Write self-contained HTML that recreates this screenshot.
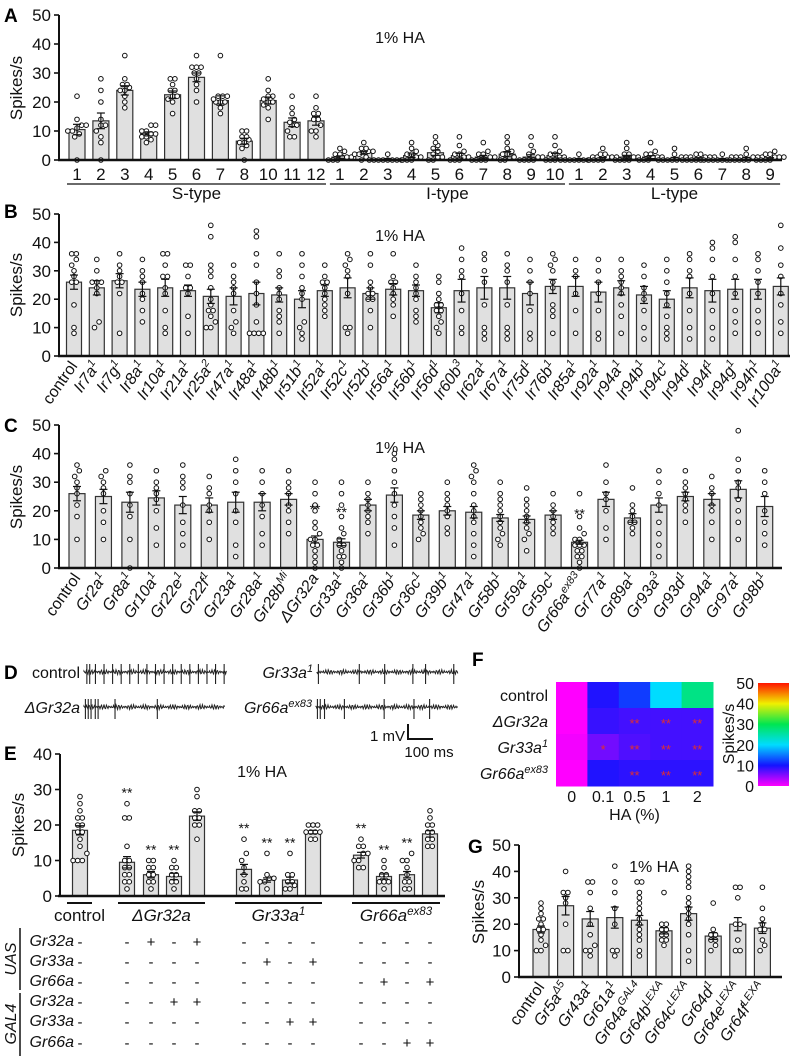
<!DOCTYPE html>
<html><head><meta charset="utf-8"><style>
body{margin:0;background:#fff}
svg{display:block;font-family:"Liberation Sans",Arial,sans-serif}
</style></head><body>
<svg id="fig" width="794" height="1058" viewBox="0 0 794 1058" xmlns="http://www.w3.org/2000/svg">
<g font-weight="bold" font-size="19">
<text x="4" y="22">A</text><text x="4" y="218">B</text><text x="4" y="432">C</text>
<text x="4" y="679">D</text><text x="4" y="760">E</text><text x="472" y="666">F</text><text x="468" y="853">G</text>
</g>
</svg>
<script>
// ---------- Data ----------
const aValues=[10.5,13.5,24,9,22.5,28.5,20.5,6.5,20.5,13,13.5, 1,2.5,0.3,1.5,2.5,1.5,1,2,1,1.5, 0.3,0.5,1,1,0.5,0.5,0.3,0.5,0.5];
const aSem=[1.8,2.7,1.6,0.7,1.3,1.5,1.6,1,1.2,1.5,1.5, .4,.5,.2,.6,.9,.8,.6,.9,.8,.8, .2,.4,.6,.5,.4,.3,.2,.4,.3];
const aLabels=["1","2","3","4","5","6","7","8","10","11","12","1","2","3","4","5","6","7","8","9","10","1","2","3","4","5","6","7","8","9"];
const aDots=[[0,8,9,10,10,11,12,12,14,22],[0,6,8,10,12,12,14,20,24,28],[18,20,22,24,24,25,26,26,28,36],[6,7,8,8,9,9,10,10,12,12],[16,20,21,22,22,24,24,26,28,28],[20,24,26,28,30,30,32,32,32,36],[16,18,20,20,20,21,22,22,22,36],[0,4,5,6,6,7,8,8,10,10],[14,18,19,20,20,21,22,22,24,28],[8,8,10,12,12,13,14,16,18,22],[8,10,10,12,14,14,16,16,18,22],
[0,0,0,1,1,1,2,2,3,4],[0,1,2,2,3,3,3,4,4,6],[0,0,0,0,0,0,0,0,1,2],[0,0,0,1,1,2,2,3,4,6],[0,0,1,1,2,3,4,5,6,8],[0,0,0,1,1,2,2,3,5,8],[0,0,0,0,1,1,2,2,3,6],[0,0,1,1,2,2,3,4,6,8],[0,0,0,0,1,1,2,3,5,8],[0,0,0,1,1,2,2,3,5,8],
[0,0,0,0,0,0,0,1,1,2],[0,0,0,0,1,1,1,2,2,4],[0,0,0,0,1,1,2,2,4,6],[0,0,0,1,1,1,2,2,3,6],[0,0,0,0,0,1,1,1,2,4],[0,0,0,0,0,1,1,1,2,2],[0,0,0,0,0,0,1,1,1,2],[0,0,0,0,0,1,1,1,2,4],[0,0,0,0,1,1,1,2,2,3]];
const aGroups=[["S-type",0,10],["I-type",11,20],["L-type",21,29]];

const bLabels=[["control",""],["Ir7a","1"],["Ir7g","1"],["Ir8a","1"],["Ir10a","1"],["Ir21a","1"],["Ir25a","2"],["Ir47a","1"],["Ir48a","1"],["Ir48b","1"],["Ir51b","1"],["Ir52a","1"],["Ir52c","1"],["Ir52b","1"],["Ir56a","1"],["Ir56b","1"],["Ir56d","1"],["Ir60b","3"],["Ir62a","1"],["Ir67a","1"],["Ir75d","1"],["Ir76b","1"],["Ir85a","1"],["Ir92a","1"],["Ir94a","1"],["Ir94b","1"],["Ir94c","1"],["Ir94d","1"],["Ir94f","1"],["Ir94g","1"],["Ir94h","1"],["Ir100a","1"]];
const bValues=[26,24,26.5,23.5,24,23,21,21,22,21.5,20,23,24,22,23.5,23,17,23,24,24,22,24.5,24.5,22.5,24,21.5,20,24,23,23.5,23.5,24.5];
const bSem=[2.5,2.5,2.5,2.5,3,2,2.5,3,4,2.5,3,2,3.5,2,2,2,1.8,4,4,4,4,2.5,3.5,3.5,2.5,3,3,3.5,4,3.5,3.5,3];
const bDots=[[8,10,18,26,26,28,30,32,34,36,36],[10,12,22,24,26,26,26,30,34],[8,22,26,26,28,30,32,36],[12,16,20,22,26,28,30,34],[8,10,16,22,24,28,28,32,36,36],[8,14,22,24,24,28,32,32],[10,10,12,14,16,16,18,20,24,28,30,32,42,46],[8,10,12,16,22,24,26,28,32],[8,8,8,8,12,18,22,26,32,36,42,44],[8,12,14,16,20,22,24,28,30,36],[6,8,10,12,20,22,24,28,32,36],[14,16,18,20,22,24,26,26,28,32],[8,10,10,22,28,30,32,34,36],[10,16,20,20,22,22,24,26,32,36],[14,18,20,22,24,26,26,28,36],[12,14,16,20,22,24,26,28,32],[8,10,12,14,16,16,18,18,20,22,26,28],[8,10,16,22,28,30,34,38],[6,8,10,18,26,30,34,36],[6,8,10,18,26,30,32,36],[6,8,16,22,26,30,34],[8,14,16,18,24,26,30,32,34,36],[8,16,22,28,30,34],[6,8,16,22,26,30,34],[8,14,18,22,24,26,28,30,34],[6,10,16,20,22,24,28,32],[6,8,10,14,18,22,26,30,34],[6,10,16,22,28,30,34,36],[6,10,16,22,28,34,38,40],[8,12,16,22,28,34,40,42],[8,12,16,22,26,30,34,36],[8,12,18,22,28,32,38,46]];

const cLabels=[["control",""],["Gr2a","1"],["Gr8a","1"],["Gr10a","1"],["Gr22e","1"],["Gr22f","1"],["Gr23a","1"],["Gr28a","1"],["Gr28b","Mi"],["\u0394Gr32a",""],["Gr33a","1"],["Gr36a","1"],["Gr36b","1"],["Gr36c","1"],["Gr39b","1"],["Gr47a","1"],["Gr58b","1"],["Gr59a","1"],["Gr59c","1"],["Gr66a","ex83"],["Gr77a","1"],["Gr89a","1"],["Gr93a","3"],["Gr93d","1"],["Gr94a","1"],["Gr97a","1"],["Gr98b","1"]];
const cValues=[26,25,23,24.5,22,22,23,23,24,10,9,22,25.5,18.5,20,19.5,17.5,17,18.5,9,24,17.5,22,25,24,27.5,21.5];
const cSem=[2.5,2.5,3.5,2.5,3,2.5,3.5,3,2,1.2,1.2,2,2.5,1.5,1.5,2,1.2,1.2,1.5,0.7,2.5,1.5,2.5,1.5,2,3,3.5];
const cStars=[9,10,19];
const cDots=[[10,18,22,26,28,30,32,34,36],[10,16,20,26,28,30,32,34],[0,10,18,22,26,30,32,36],[8,14,20,24,26,28,30,34],[8,12,16,22,28,30,32,36],[10,16,20,22,26,28,32],[4,8,16,20,26,30,34,38],[8,12,18,22,26,30,34],[12,16,20,22,26,28,30,34],[0,2,4,6,8,8,10,10,12,14,16,20,22,26,30],[0,2,4,4,6,8,8,10,12,14,18,22,26,30],[12,16,18,20,22,24,26,30],[8,14,18,22,26,30,34,38,40],[10,12,14,16,18,20,22,24,26],[12,14,18,20,22,24,26,30],[4,8,12,16,18,20,22,26,30,32,34,36],[8,10,12,14,16,18,20,22,24,26,30],[6,10,12,14,16,18,20,22,24,28],[12,14,16,18,20,22,26],[0,2,4,4,6,6,8,8,8,10,10,12,14,18,26],[10,14,20,24,26,30,36],[12,14,16,16,18,20,22,28],[4,8,12,16,22,26,30,34],[16,20,22,24,26,28,30,34],[10,16,20,22,26,28,32],[10,16,20,24,28,30,34,38,48],[8,12,16,20,26,30,34]];

const eValues=[18.5,9.5,6,5.5,22.5,7.5,4.5,4.5,18,11.5,5.5,6,17.5];
const eSem=[1.3,1.6,0.9,0.9,1.2,1.4,0.6,0.8,0.5,0.8,0.7,0.9,0.9];
const eDots=[[10,10,10,12,14,16,18,18,20,20,22,22,24,26,28],[2,4,4,6,6,8,8,10,10,14,22,22,26],[2,4,4,6,6,8,8,10,10],[2,4,4,6,6,8,8,10],[16,20,20,22,22,24,24,28,30],[2,2,4,6,8,10,12,16],[2,4,4,5,5,6,12],[2,2,3,4,4,6,6,12],[16,16,18,18,18,18,20,20,20],[8,8,10,10,12,12,14,14,16],[2,4,4,4,6,6,8,10],[2,2,4,4,6,8,10,10,12],[14,14,16,16,18,18,20,20,22,24]];
const eStars=[1,2,3,5,6,7,9,10,11];
const eTable=[["-","-","+","-","+","-","-","-","-","-","-","-","-"],["-","-","-","-","-","-","+","-","+","-","-","-","-"],["-","-","-","-","-","-","-","-","-","-","+","-","+"],["-","-","-","+","+","-","-","-","-","-","-","-","-"],["-","-","-","-","-","-","-","+","+","-","-","-","-"],["-","-","-","-","-","-","-","-","-","-","-","+","+"]];
const eRowLabels=["Gr32a","Gr33a","Gr66a","Gr32a","Gr33a","Gr66a"];

const fRows=[["control",""],["\u0394Gr32a",""],["Gr33a","1"],["Gr66a","ex83"]];
const fCols=["0","0.1","0.5","1","2"];
const fValues=[[0,9.5,12,20,27],[0,8.5,8,8,8],[0.5,6,7.5,8,8],[0,9.5,9,9,9]];
const fStars=[["","","","",""],["","","**","**","**"],["","*","**","**","**"],["","","**","**","**"]];

const gLabels=[["control",""],["Gr5a","\u03945"],["Gr43a","1"],["Gr61a","1"],["Gr64a","GAL4"],["Gr64b","LEXA"],["Gr64c","LEXA"],["Gr64d","1"],["Gr64e","LEXA"],["Gr64f","LEXA"]];
const gValues=[18,27,22,22.5,21.5,17.5,24,15.5,20,18.5];
const gSem=[1.3,3.5,2.8,4,1.8,1.2,2.5,1.3,2.5,2];
const gDots=[[10,10,12,14,16,18,18,20,22,22,24,26,28],[10,10,20,28,30,32,32,40],[8,10,10,12,16,20,26,32,36,36],[8,10,10,20,26,32,36,42],[8,10,14,16,18,20,22,24,26,28,30,32,36,36],[12,14,14,16,16,18,18,20,20,32],[6,10,16,20,22,24,26,28,30,34,36,38,40,42],[10,12,14,14,16,16,18,28],[10,10,14,20,20,30,34,34],[10,12,14,18,18,20,22,26,34]];

const dSpikes=[[0.02,0.04,0.08,0.14,0.2,0.26,0.32,0.38,0.44,0.5,0.56,0.62,0.68,0.74,0.8,0.86,0.92,0.98],[0.01,0.03,0.05,0.08,0.1,0.22,0.52],[0.01,0.3,0.48,0.68,0.77,0.97],[0.01,0.03,0.06,0.2,0.48,0.69,0.8]];

// ---------- helpers ----------
const NS="http://www.w3.org/2000/svg";
const svg=document.getElementById('fig');
function el(tag,attrs,parent,txt){const e=document.createElementNS(NS,tag);for(const k in attrs)e.setAttribute(k,attrs[k]);if(txt!==undefined)e.textContent=txt;(parent||svg).appendChild(e);return e;}
function group(name){const g=el('g',{},svg);return g;}
function labelText(parent,x,y,base,sup,size,opts){
  const t=el('text',Object.assign({x:x,y:y,'font-size':size,fill:'#111'},opts||{}),parent);
  const italic=base!=="control";
  el('tspan',{'font-style':italic?'italic':'normal'},t,base);
  if(sup){el('tspan',{'font-size':size*0.68,'baseline-shift':'super','font-style':'italic'},t,sup);}
  return t;
}
function yAxis(g,x,y0,ymax,max,step){
  const sc=v=>y0-(v/max)*(y0-ymax);
  el('line',{x1:x,y1:y0+1,x2:x,y2:ymax,stroke:'#111','stroke-width':2},g);
  for(let v=0;v<=max;v+=step){const y=sc(v);el('line',{x1:x-5,y1:y,x2:x,y2:y,stroke:'#111','stroke-width':1.6},g);
    const t=el('text',{x:x-8,y:y+6,'text-anchor':'end','font-size':17,fill:'#111'},g,String(v));}
  return sc;
}
function yTitle(g,x,y){const t=el('text',{x:x,y:y,'font-size':17,fill:'#111','text-anchor':'middle',transform:`rotate(-90 ${x} ${y})`},g,'Spikes/s');}
function bars(g,xs,vals,sems,dots,sc,w){
  vals.forEach((v,i)=>{
    const x=xs(i),y0=sc(0),y=sc(v);
    const r=el('rect',{x:x-w/2,y:y,width:w,height:y0-y,fill:'#e0e0e0',stroke:'#333','stroke-width':1.2},g);
    
    const d=(dots[i]||[]).slice().sort((a,b)=>a-b);
    const bins={};d.forEach(vv=>{const k=Math.round(vv/2.2);(bins[k]=bins[k]||[]).push(vv);});
    Object.values(bins).forEach(arr=>{arr.forEach((vv,k)=>{const off=(k-(arr.length-1)/2)*4.6;
      const c=el('circle',{cx:x+off,cy:sc(vv),r:2.3,fill:'#fff',stroke:'#111','stroke-width':1},g);
      });});
    const s=sems[i];
    el('line',{x1:x,y1:sc(v+s),x2:x,y2:sc(Math.max(0,v-s)),stroke:'#111','stroke-width':1.2},g);
    el('line',{x1:x-4,y1:sc(v+s),x2:x+4,y2:sc(v+s),stroke:'#111','stroke-width':1.2},g);
    el('line',{x1:x-4,y1:sc(Math.max(0,v-s)),x2:x+4,y2:sc(Math.max(0,v-s)),stroke:'#111','stroke-width':1.2},g);
  });
}
function xAxisLine(g,x1,x2,y){el('line',{x1:x1,y1:y,x2:x2,y2:y,stroke:'#111','stroke-width':2.4},g);}
function rotLabels(g,xs,labels,y,size){labels.forEach((l,i)=>{const x=xs(i)+4;const t=labelText(g,x,y,l[0],l[1],size,{'text-anchor':'end',transform:`rotate(-55 ${x} ${y})`});});}
function title(g,x,y,s){const t=el('text',{x:x,y:y,'font-size':16,fill:'#111','text-anchor':'middle'},g,s||'1% HA');}

// ---------- Panel A ----------
(function(){const g=group('panel-a-chart');
  const sc=yAxis(g,59,160,15,50,10);yTitle(g,22,88);title(g,400,43);
  const xs=i=>77+i*23.9;
  bars(g,xs,aValues,aSem,aDots,sc,16);xAxisLine(g,58,782,160);
  aLabels.forEach((l,i)=>{const t=el('text',{x:xs(i),y:180,'text-anchor':'middle','font-size':17,fill:'#111'},g,l);});
  aGroups.forEach(gr=>{const x1=xs(gr[1])-10,x2=xs(gr[2])+10;el('line',{x1:x1,y1:184,x2:x2,y2:184,stroke:'#111','stroke-width':1.2},g);
    const t=el('text',{x:(x1+x2)/2,y:199,'text-anchor':'middle','font-size':17,fill:'#111'},g,gr[0]);});
})();
// ---------- Panel B ----------
(function(){const g=group('panel-b-chart');
  const sc=yAxis(g,59,356,214,50,10);yTitle(g,22,285);title(g,400,241);
  const xs=i=>74+i*22.8;
  bars(g,xs,bValues,bSem,bDots,sc,15);xAxisLine(g,58,790,356);rotLabels(g,xs,bLabels,366,16);
})();
// ---------- Panel C ----------
(function(){const g=group('panel-c-chart');
  const sc=yAxis(g,59,568,425,50,10);yTitle(g,22,497);title(g,400,453);
  const xs=i=>77+i*26.45;
  bars(g,xs,cValues,cSem,cDots,sc,16);xAxisLine(g,58,782,568);rotLabels(g,xs,cLabels,578,16);
  cStars.forEach(i=>{const t=el('text',{x:xs(i),y:sc(cValues[i]+cSem[i])-22,'text-anchor':'middle','font-size':14,fill:'#111'},g,'**');});
})();
// ---------- Panel D traces ----------
(function(){const g=group('panel-d-traces');
  const tr=[[84,227,672,"control",""],[84,225,707,"\u0394Gr32a",""],[317,458,672,"Gr33a","1"],[316,458,707,"Gr66a","ex83"]];
  tr.forEach((t,k)=>{const sp=dSpikes[k];let d=`M${t[0]} ${t[2]}`;
    for(let x=t[0];x<=t[1];x+=0.8){d+=` L${x.toFixed(1)} ${(t[2]+Math.sin(x*5.3)*1.6+Math.sin(x*2.1)*0.9).toFixed(1)}`;}
    const p=el('path',{d:d,fill:'none',stroke:'#222','stroke-width':1},g);
    sp.forEach(f=>{const x=t[0]+f*(t[1]-t[0]);el('line',{x1:x,y1:t[2]-8,x2:x,y2:t[2]+12,stroke:'#222','stroke-width':1.1},g);});
    const lab=labelText(g,t[0]-4,t[2]+6,t[3],t[4],16,{'text-anchor':'end'});
  });
  el('path',{d:'M408 724 L408 739 L433 739',fill:'none',stroke:'#111','stroke-width':2},g);
  const t1=el('text',{x:405,y:741,'text-anchor':'end','font-size':15,fill:'#111'},g,'1 mV');
  const t2=el('text',{x:429,y:757,'text-anchor':'middle','font-size':15,fill:'#111'},g,'100 ms');
})();
// ---------- Panel E ----------
(function(){const g=group('panel-e-chart');
  const sc=yAxis(g,60,896,754,40,10);yTitle(g,24,825);title(g,262,777);
  const pos=[80,127,151,174,197,244,267,290,313,361,384,407,430];const xs=i=>pos[i];
  bars(g,xs,eValues,eSem,eDots,sc,15);xAxisLine(g,58,445,896);
  eStars.forEach(i=>{const t=el('text',{x:xs(i),y:sc(Math.max(...eDots[i]))-6,'text-anchor':'middle','font-size':14,fill:'#111'},g,'**');});
  const grp=[["control","",67,92],["\u0394Gr32a","",118,205],["Gr33a","1",235,322],["Gr66a","ex83",352,440]];
  grp.forEach(r=>{el('line',{x1:r[2],y1:903,x2:r[3],y2:903,stroke:'#111','stroke-width':2},g);
    const t=labelText(g,(r[2]+r[3])/2,921,r[0],r[1],17,{'text-anchor':'middle'});});
  const rowY=[947,967,987,1007,1027,1048];
  eRowLabels.forEach((l,r)=>{const t=el('text',{x:74,y:rowY[r]-1,'text-anchor':'end','font-size':16,'font-style':'italic',fill:'#111'},g,l);
    eTable[r].forEach((s,c)=>{el('text',{x:c===0?80:pos[c],y:rowY[r],'text-anchor':'middle','font-size':15,fill:'#111'},g,s);});});
  el('line',{x1:20,y1:928,x2:20,y2:990,stroke:'#111','stroke-width':1.5},g);
  el('line',{x1:20,y1:993,x2:20,y2:1056,stroke:'#111','stroke-width':1.5},g);
  el('text',{x:16,y:959,'font-size':16,'font-style':'italic','text-anchor':'middle',fill:'#111',transform:'rotate(-90 16 959)'},g,'UAS');
  el('text',{x:16,y:1024,'font-size':16,'font-style':'italic','text-anchor':'middle',fill:'#111',transform:'rotate(-90 16 1024)'},g,'GAL4');
})();
// ---------- Panel F ----------
function cmap(v){const stops=[[0,[255,0,255]],[10,[20,20,255]],[20,[0,220,255]],[30,[0,230,80]],[40,[240,240,0]],[50,[255,20,0]]];
  v=Math.max(0,Math.min(50,v));for(let i=0;i<stops.length-1;i++){const [a,ca]=stops[i],[b,cb]=stops[i+1];if(v<=b){const f=(v-a)/(b-a);return `rgb(${ca.map((c,j)=>Math.round(c+(cb[j]-c)*f)).join(',')})`;}}return 'rgb(255,20,0)';}
(function(){const g=group('panel-f-heatmap');
  const x0=556,y0=682,cw=31.4,ch=26;
  fValues.forEach((row,r)=>{row.forEach((v,c)=>{const rc=el('rect',{x:x0+c*cw,y:y0+r*ch,width:cw+0.5,height:ch+0.5,fill:cmap(v)},g);
      if(fStars[r][c])el('text',{x:x0+c*cw+cw/2,y:y0+r*ch+ch/2+7,'text-anchor':'middle','font-size':13,fill:'#e03030'},g,fStars[r][c]);});
    const t=labelText(g,x0-8,y0+r*ch+ch/2+6,fRows[r][0],fRows[r][1],16,{'text-anchor':'end'});});
  fCols.forEach((c,i)=>{const t=el('text',{x:x0+i*cw+cw/2,y:802,'text-anchor':'middle','font-size':16,fill:'#111'},g,c);});
  const xt=el('text',{x:x0+2.5*cw,y:820,'text-anchor':'middle','font-size':16,fill:'#111'},g,'HA (%)');
  const defs=el('defs',{},g);const lg=el('linearGradient',{id:'cb',x1:0,y1:1,x2:0,y2:0},defs);
  for(let v=0;v<=50;v+=5)el('stop',{offset:(v/50),'stop-color':cmap(v)},lg);
  const cb=el('rect',{x:758,y:683,width:31,height:103,fill:'url(#cb)'},g);
  for(let v=0;v<=50;v+=10){el('text',{x:754,y:786-v/50*103+6,'text-anchor':'end','font-size':16,fill:'#111'},g,String(v));}
  el('text',{x:734,y:734,'font-size':16,'text-anchor':'middle',fill:'#111',transform:'rotate(-90 734 734)'},g,'Spikes/s');
})();
// ---------- Panel G ----------
(function(){const g=group('panel-g-chart');
  const sc=yAxis(g,519,977,845,50,10);yTitle(g,484,912);title(g,654,872);
  const xs=i=>541+i*24.6;
  bars(g,xs,gValues,gSem,gDots,sc,16);xAxisLine(g,518,782,977);rotLabels(g,xs,gLabels,987,16);
})();
</script>
</body></html>
